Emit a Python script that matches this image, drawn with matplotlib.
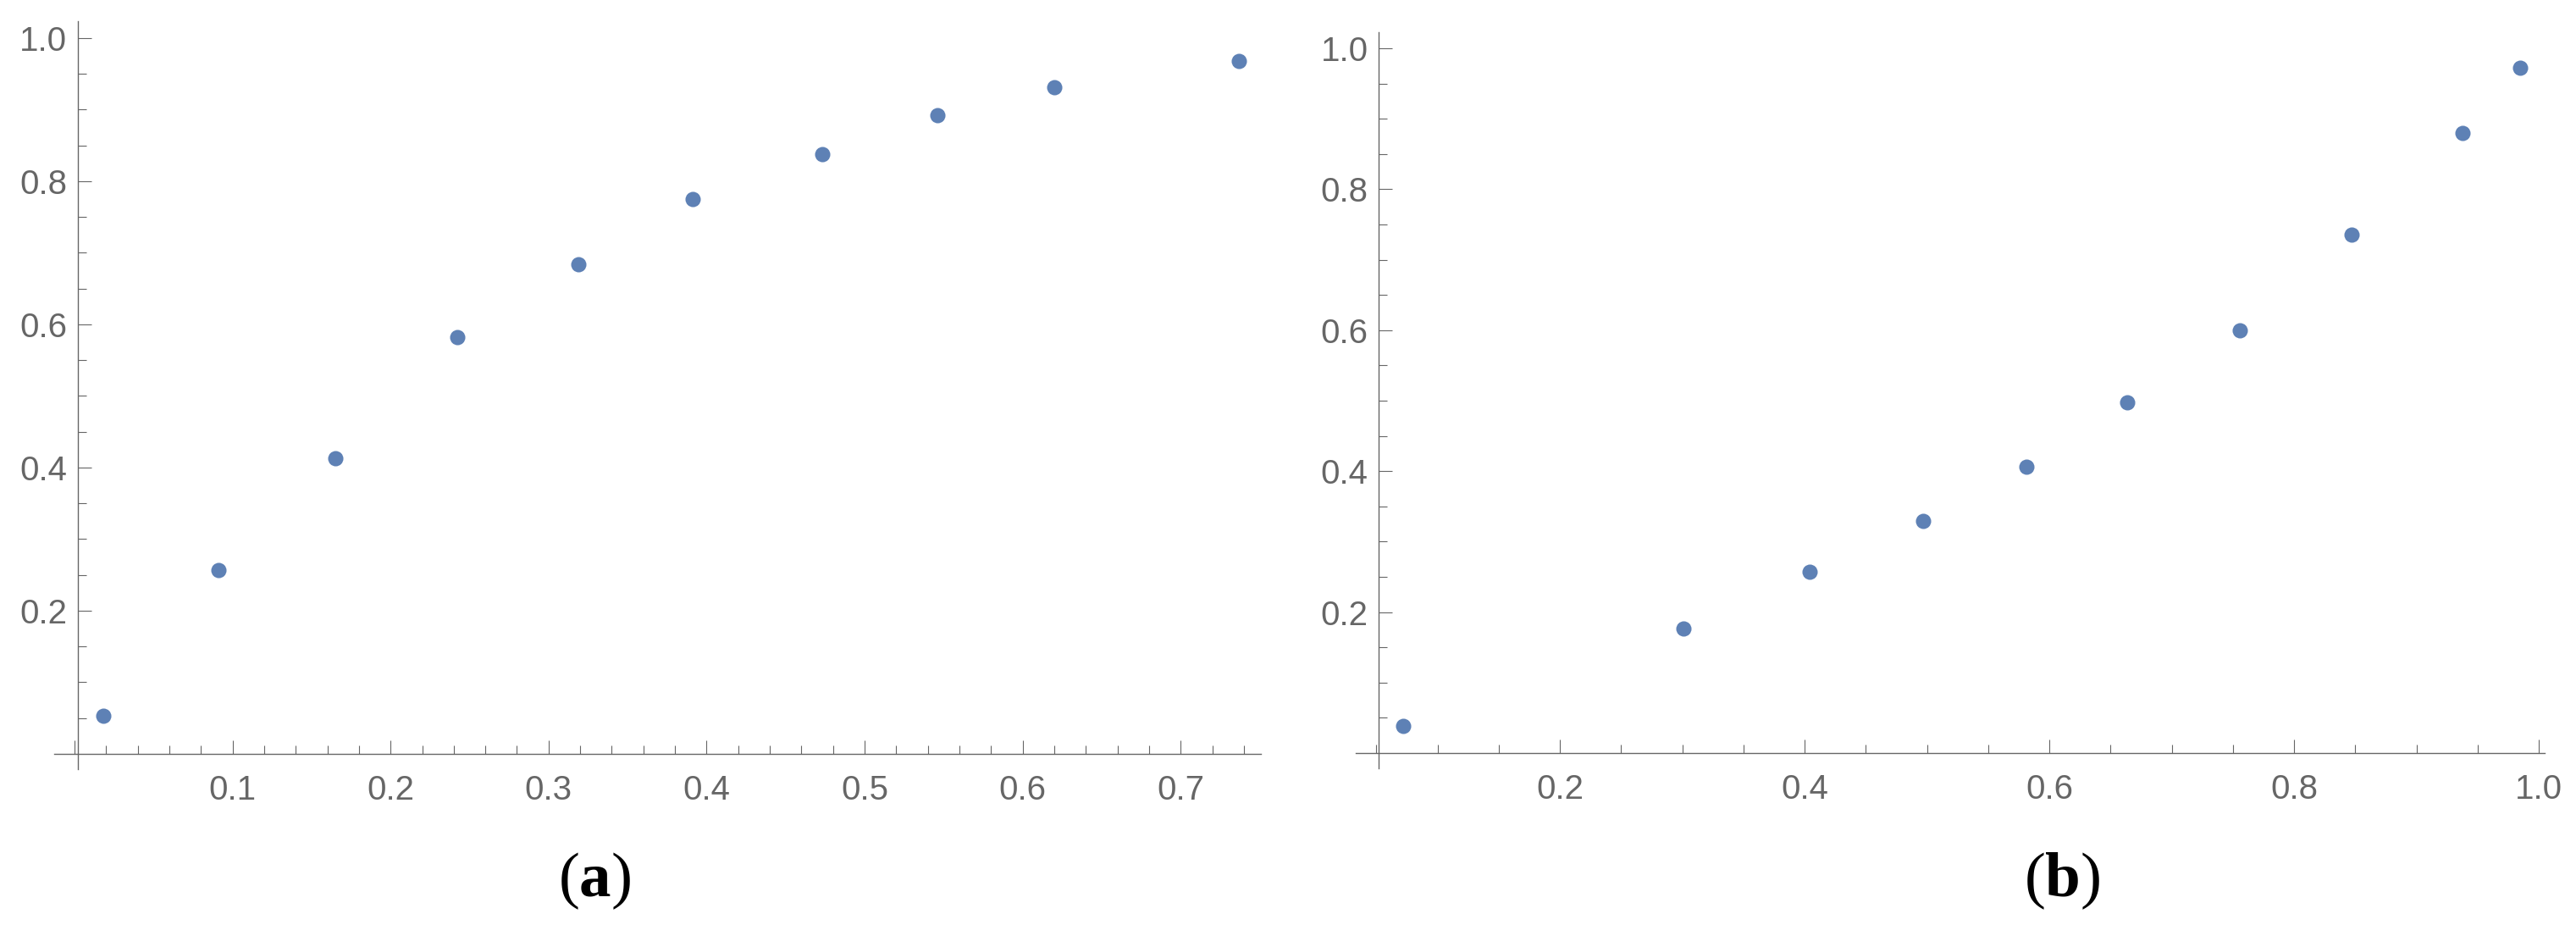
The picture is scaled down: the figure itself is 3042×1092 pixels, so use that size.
import numpy as np
import matplotlib
matplotlib.use("Agg")
import matplotlib.pyplot as plt
from matplotlib import font_manager
from matplotlib.ticker import FixedLocator

# panel (a)
xa = [0.018, 0.091, 0.165, 0.242, 0.319, 0.391, 0.473, 0.546, 0.620, 0.737]
ya = [0.053, 0.257, 0.413, 0.582, 0.684, 0.775, 0.838, 0.892, 0.931, 0.968]
xa_major = [0.0, 0.1, 0.2, 0.3, 0.4, 0.5, 0.6, 0.7]
xa_labels = ["", "0.1", "0.2", "0.3", "0.4", "0.5", "0.6", "0.7"]

# panel (b)
xb = [0.072, 0.301, 0.404, 0.497, 0.581, 0.664, 0.756, 0.847, 0.938, 0.985]
yb = [0.039, 0.177, 0.257, 0.329, 0.406, 0.497, 0.600, 0.735, 0.880, 0.972]
xb_major = [0.2, 0.4, 0.6, 0.8, 1.0]
xb_labels = ["0.2", "0.4", "0.6", "0.8", "1.0"]

y_major = [0.2, 0.4, 0.6, 0.8, 1.0]
y_labels = ["0.2", "0.4", "0.6", "0.8", "1.0"]

W, H = 3042, 1092
grey = "#666666"
blue = "#5E81B5"

names = {f.name for f in font_manager.fontManager.ttflist}
tick_font = "Liberation Sans Narrow" if "Liberation Sans Narrow" in names else "Liberation Sans"

plt.rcParams["mathtext.fontset"] = "custom"
plt.rcParams["mathtext.rm"] = "Liberation Serif"
plt.rcParams["mathtext.bf"] = "Liberation Serif:bold"

fig = plt.figure(figsize=(W / 100, H / 100), dpi=100)


def make_axes(x0px, xscale, y1px, yscale, xlim, ylim):
    # pixel calibration -> figure rect
    left = x0px + xscale * xlim[0]
    right = x0px + xscale * xlim[1]
    top = y1px + (1 - ylim[1]) * yscale
    bottom = y1px + (1 - ylim[0]) * yscale
    ax = fig.add_axes([left / W, 1 - bottom / H, (right - left) / W, (bottom - top) / H])
    ax.set_xlim(*xlim)
    ax.set_ylim(*ylim)
    ax.patch.set_alpha(0)
    return ax


def style(ax, yaxis_x, xmajor, xlabels, xminor):
    for s in ["top", "right"]:
        ax.spines[s].set_visible(False)
    ax.spines["left"].set_position(("data", yaxis_x))
    ax.spines["bottom"].set_position(("data", 0.0))
    for s in ["left", "bottom"]:
        ax.spines[s].set_color(grey)
        ax.spines[s].set_linewidth(1.0)
    ax.xaxis.set_major_locator(FixedLocator(xmajor))
    ax.set_xticklabels(xlabels)
    ax.xaxis.set_minor_locator(FixedLocator(xminor))
    ax.yaxis.set_major_locator(FixedLocator(y_major))
    ax.set_yticklabels(y_labels)
    ax.yaxis.set_minor_locator(FixedLocator(np.arange(0.05, 1.0, 0.05)))
    ax.tick_params(which="both", direction="in", color=grey, width=0.8,
                   labelcolor=grey, labelsize=29)
    ax.tick_params(which="major", length=11.5)
    ax.tick_params(which="minor", length=7.2)
    ax.tick_params(axis="x", pad=17)
    ax.tick_params(axis="y", pad=9)
    for lab in ax.get_xticklabels() + ax.get_yticklabels():
        lab.set_family(tick_font)


# left panel
ax1 = make_axes(88, 1866, 45, 845, (-0.013, 0.751), (-0.021, 1.024))
ax1.plot(xa, ya, "o", color=blue, markersize=13, markeredgewidth=0, clip_on=False)
style(ax1, 0.002, xa_major, xa_labels,
      [v for v in np.arange(0.02, 0.75, 0.02) if abs(v * 10 - round(v * 10)) > 1e-6])

# right panel
ax2 = make_axes(1842 - 1445 * 0.2, 1445, 57, 832, (0.033, 1.005), (-0.0216, 1.023))
ax2.plot(xb, yb, "o", color=blue, markersize=13, markeredgewidth=0, clip_on=False)
style(ax2, 0.052, xb_major, xb_labels,
      [v for v in np.arange(0.05, 1.0, 0.05) if abs(v * 5 - round(v * 5)) > 1e-6])

fig.text(702 / W, 1 - 1040 / H, r"($\mathbf{a}$)", ha="center", va="center",
         fontsize=54, family="Liberation Serif", color="black")
fig.text(2435 / W, 1 - 1040 / H, r"($\mathbf{b}$)", ha="center", va="center",
         fontsize=54, family="Liberation Serif", color="black")

fig.savefig("out.png", dpi=100, facecolor="white")
